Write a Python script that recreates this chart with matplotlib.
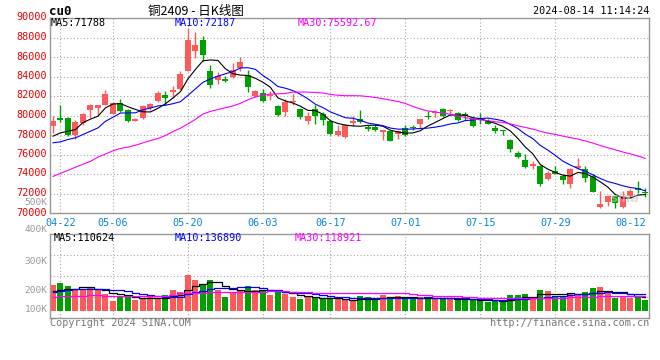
import numpy as np
import pandas as pd
import matplotlib
matplotlib.use("Agg")
import matplotlib.pyplot as plt
from matplotlib.ticker import LinearLocator
from matplotlib.transforms import ScaledTranslation

plt.rcParams['font.family'] = ['DejaVu Sans Mono', 'Noto Sans CJK SC']

# trading days shown (04-19 .. 08-14)
dates = ['04-19', '04-22', '04-23', '04-24', '04-25', '04-26', '04-29', '04-30',
	'05-06', '05-07', '05-08', '05-09', '05-10', '05-13', '05-14', '05-15', '05-16', '05-17',
	'05-20', '05-21', '05-22', '05-23', '05-24', '05-27', '05-28', '05-29', '05-30', '05-31',
	'06-03', '06-04', '06-05', '06-06', '06-07', '06-11', '06-12', '06-13', '06-14',
	'06-17', '06-18', '06-19', '06-20', '06-21', '06-24', '06-25', '06-26', '06-27', '06-28',
	'07-01', '07-02', '07-03', '07-04', '07-05', '07-08', '07-09', '07-10', '07-11', '07-12',
	'07-15', '07-16', '07-17', '07-18', '07-19', '07-22', '07-23', '07-24', '07-25', '07-26',
	'07-29', '07-30', '07-31', '08-01', '08-02', '08-05', '08-06', '08-07', '08-08', '08-09',
	'08-12', '08-13', '08-14']
tick_dates = ['04-22', '05-06', '05-20', '06-03', '06-17', '07-01', '07-15', '07-29', '08-12']

opens = [78900, 79750, 79750, 77950, 79210, 80600, 80780, 81120, 80200, 81290,
	80600, 79410, 79750, 80780, 81530, 82140, 82380, 82720, 84520, 86620,
	87700, 84590, 83670, 83770, 83910, 84860, 84180, 82040, 82340, 82040,
	81020, 80370, 81420, 80710, 79410, 80710, 80170, 79480, 77980, 77780,
	79210, 79650, 78800, 78800, 78330, 78460, 78120, 78730, 78800, 79140,
	80000, 80240, 80680, 80440, 80270, 80170, 79650, 79650, 79410, 78730,
	78460, 77440, 76140, 75390, 74810, 74810, 73450, 74300, 73790, 73010,
	74570, 74470, 73790, 70620, 71170, 71790, 70620, 71750, 72530, 72190]
highs = [79925, 81120, 79820, 79585, 80230, 81190, 81120, 82580, 81390, 81730,
	80700, 79750, 81120, 81290, 82480, 82550, 82990, 84520, 88950, 88560,
	88200, 85200, 84420, 84010, 85380, 85960, 84690, 82650, 82750, 82550,
	81120, 81730, 82240, 80780, 80370, 81120, 80370, 79580, 79070, 79140,
	80000, 80610, 79000, 79140, 78530, 78560, 78560, 79070, 79000, 79650,
	80480, 80610, 80780, 80710, 80370, 80340, 79930, 80270, 79650, 79010,
	78560, 77540, 76350, 76010, 75330, 74880, 74300, 74810, 73960, 74640,
	75670, 74810, 73960, 72260, 71830, 71790, 72260, 72430, 73280, 72600]
lows = [78220, 79350, 77880, 77640, 79070, 79750, 80000, 81050, 80170, 80370,
	79350, 79410, 79590, 80600, 81390, 81120, 81800, 82650, 84520, 85890,
	85600, 82820, 83230, 83430, 83840, 84520, 82380, 81870, 81390, 81590,
	79960, 80000, 81120, 79620, 79140, 79170, 79000, 78050, 77850, 77710,
	78900, 79240, 78390, 78460, 77470, 77370, 77570, 77880, 78530, 78730,
	79650, 79820, 79860, 80070, 79410, 79580, 78800, 79170, 79140, 78220,
	78050, 76250, 75670, 74640, 74470, 72770, 73350, 73960, 73010, 72600,
	74470, 73180, 72160, 70550, 70720, 70550, 70550, 71580, 72090, 71650]
closes = [79415, 79515, 77980, 79345, 80160, 81120, 81050, 82240, 81290, 80430,
	79480, 79680, 81010, 81220, 82310, 81800, 82650, 84250, 87760, 87180,
	86200, 83090, 84010, 83500, 84630, 85480, 82920, 82550, 81460, 82070,
	80030, 81360, 81490, 79820, 79920, 79920, 79520, 78120, 78460, 79070,
	79480, 79340, 78600, 78560, 78530, 77430, 78460, 77980, 78670, 79650,
	79860, 80310, 79930, 80540, 79520, 79930, 78900, 79520, 79170, 78460,
	78390, 76520, 75730, 74710, 74980, 72940, 74130, 74030, 73350, 74470,
	74810, 73620, 72190, 70890, 71790, 71000, 71750, 72260, 72360, 72090]
# volume in thousands of lots
volume = [215, 234, 206, 173, 173, 190, 173, 140, 84, 117,
	123, 89, 103, 112, 100, 128, 173, 159, 299, 257,
	215, 257, 173, 112, 159, 167, 206, 173, 173, 131,
	156, 144, 117, 98, 117, 116, 95, 109, 95, 89,
	81, 123, 114, 89, 135, 114, 120, 103, 100, 112,
	112, 95, 109, 95, 95, 95, 92, 89, 75, 81,
	81, 131, 131, 140, 109, 173, 165, 123, 123, 151,
	131, 156, 190, 198, 145, 109, 123, 109, 123, 89]

# moving average values before the window is full
ma5_head = [77880, 78220, 78390, 78560]
ma10_head = [77200, 77300, 77540, 77710, 78050, 78390, 78730, 79410, 79820]
ma30_head = [73750, 74070, 74370, 74700, 75000, 75300, 75730, 76050, 76380, 76620,
	76760, 76950, 77190, 77430, 77640, 77950, 78350, 78700, 79140, 79600,
	80150, 80420, 80620, 80800, 80980, 81250, 81600, 81900, 82080]
vma5_head = [167, 176, 181, 184]
vma10_head = [159, 167, 173, 179, 181, 181, 181, 179, 173]
vma30_head = [117, 120, 122, 123, 126, 128, 128, 126, 124, 123,
	123, 123, 123, 123, 124, 126, 135, 145, 148, 149,
	150, 154, 156, 156, 156, 157, 157, 157, 157]

RED = '#ff5a5a'
GREEN = '#00a000'
GRID = '#a8a8a8'
FRAME = '#999999'
W, H = 660, 360

def box(l, t, r, b):
	return [l / W, 1 - b / H, (r - l) / W, (b - t) / H]

def put(x, y, s, **kw):
	fig.text(x / W, 1 - y / H, s, va='center', **kw)

def moving(values, n, head):
	ma = pd.Series(values, dtype=float).rolling(n).mean().to_numpy()
	ma[:n - 1] = head
	return ma

def frame(ax):
	for sp in ax.spines.values():
		sp.set_color(FRAME)
		sp.set_linewidth(1)
	ax.tick_params(length=0)
	ax.grid(True, color=GRID, linestyle=(0, (1, 2)), linewidth=0.8)
	ax.set_axisbelow(True)

x = np.arange(len(dates))
o, h, l, c = map(np.array, (opens, highs, lows, closes))
colors = np.where(c >= o, RED, GREEN)
tick_idx = [dates.index(d) for d in tick_dates]

fig = plt.figure(figsize=(6.6, 3.6), dpi=100)
ax = fig.add_axes(box(50, 18, 649, 213))
axv = fig.add_axes(box(50, 234, 649, 318))

# price panel
frame(ax)
ax.vlines(x, l, h, colors=colors, linewidth=1)
ax.bar(x, np.maximum(np.abs(c - o), 110), bottom=np.minimum(o, c), width=0.8,
	color=colors, linewidth=0)
ax.plot(x, moving(closes, 5, ma5_head), color='black', linewidth=0.8)
ax.plot(x, moving(closes, 10, ma10_head), color='#0000ff', linewidth=0.8)
ax.plot(x, moving(closes, 30, ma30_head), color='#ff00ff', linewidth=0.8)
ax.set_xlim(-0.4, 79.5)
ax.set_ylim(70000, 90000)
ax.set_yticks(range(70000, 90001, 2000))
ax.tick_params(axis='y', labelcolor='#ee0000', labelsize=7.3, pad=2.5)
# price labels sit a pixel above their grid lines
up1 = ScaledTranslation(0, 1.5 / 100, fig.dpi_scale_trans)
for lab in ax.get_yticklabels():
	lab.set_transform(lab.get_transform() + up1)
ax.set_xticks(tick_idx)
ax.set_xticklabels(tick_dates)
ax.tick_params(axis='x', labelcolor='#0a84d6', labelsize=7.3, pad=3.5)
ax.get_xgridlines()[-1].set_visible(False)
ax.text(0.985, 0.04, 'sina', transform=ax.transAxes, ha='right', va='bottom',
	fontsize=9, style='italic', fontweight='bold', color='#c8c8c8', alpha=0.6,
	family='DejaVu Sans')

# volume panel
frame(axv)
axv.bar(x, volume, width=0.8, color=colors, linewidth=0)
axv.plot(x, moving(volume, 5, vma5_head), color='black', linewidth=0.9, drawstyle='steps-mid')
axv.plot(x, moving(volume, 10, vma10_head), color='#0000ff', linewidth=0.9, drawstyle='steps-mid')
axv.plot(x, moving(volume, 30, vma30_head), color='#ff00ff', linewidth=0.9, drawstyle='steps-mid')
axv.set_xlim(-0.4, 79.5)
axv.set_ylim(-61, 642)
axv.yaxis.set_major_locator(LinearLocator(5))
axv.set_xticks(tick_idx)
axv.tick_params(labelleft=False, labelbottom=False)
axv.get_xgridlines()[-1].set_visible(False)

for s, y in [('500K', 202.5), ('400K', 230), ('300K', 261), ('200K', 290.5), ('100K', 310)]:
	put(47.5, y, s, ha='right', color='#9a9a9a', fontsize=6.8)

# header and legends
put(49, 11.5, 'cu0', ha='left', fontsize=9, fontweight='bold', color='black')
put(196, 11.5, '铜2409 - 日K线图', ha='center', fontsize=9, color='black',
	family=['Noto Sans CJK SC', 'DejaVu Sans'])
put(649, 11.5, '2024-08-14 11:14:24', ha='right', fontsize=7.3, color='black')
put(51, 23.5, 'MA5:71788', ha='left', fontsize=7.3, color='black')
put(175, 23.5, 'MA10:72187', ha='left', fontsize=7.3, color='#0000ff')
put(298, 23.5, 'MA30:75592.67', ha='left', fontsize=7.3, color='#ff00ff')
put(54, 238, 'MA5:110624', ha='left', fontsize=7.3, color='black')
put(175, 238, 'MA10:136890', ha='left', fontsize=7.3, color='#0000ff')
put(295, 238, 'MA30:118921', ha='left', fontsize=7.3, color='#ff00ff')
put(50, 323.5, 'Copyright 2024 SINA.COM', ha='left', fontsize=7.3, color='#777777')
put(649, 323.5, 'http://finance.sina.com.cn', ha='right', fontsize=7.3, color='#777777')

fig.savefig('out.png', dpi=100, facecolor='white')
